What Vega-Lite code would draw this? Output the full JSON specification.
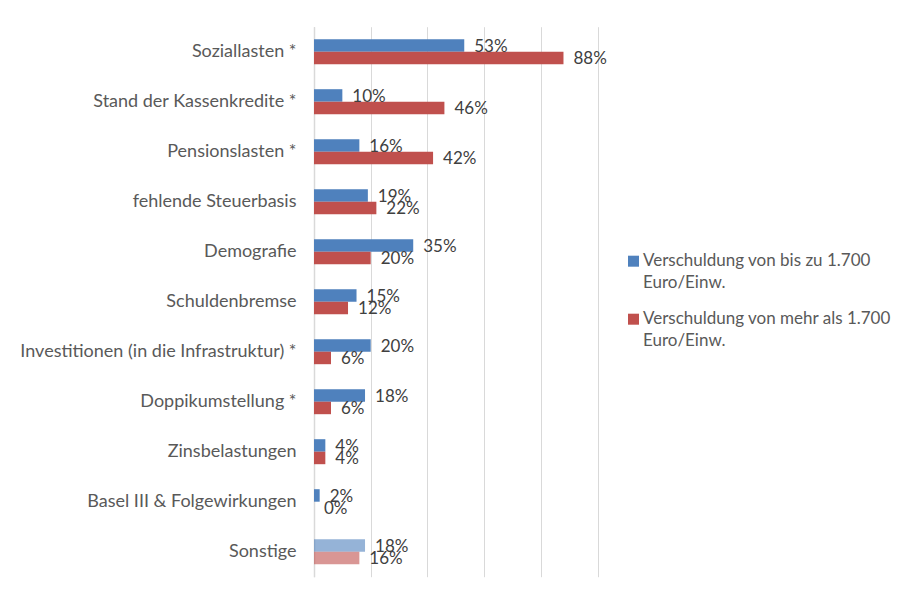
{
  "$schema": "https://vega.github.io/schema/vega-lite/v6.json",
  "autosize": {"type": "none"},
  "width": 283.5,
  "height": 550,
  "padding": {"left": 314, "top": 26.7, "right": 308.5, "bottom": 13.3},
  "background": "white",
  "config": {
    "view": {"stroke": null},
    "font": "Lato",
    "axis": {"labelFont": "Lato", "labelFontSize": 18, "labelColor": "#595959"},
    "legend": {"labelFont": "Lato", "labelFontSize": 17, "labelColor": "#595959"},
    "style": {"guide-label": {"lineHeight": 22}}
  },
  "data": {
    "values": [
      {"kategorie": "Soziallasten *", "serie": "Verschuldung von bis zu 1.700 Euro/Einw.", "wert": 0.53},
      {"kategorie": "Soziallasten *", "serie": "Verschuldung von mehr als 1.700 Euro/Einw.", "wert": 0.88},
      {"kategorie": "Stand der Kassenkredite *", "serie": "Verschuldung von bis zu 1.700 Euro/Einw.", "wert": 0.10},
      {"kategorie": "Stand der Kassenkredite *", "serie": "Verschuldung von mehr als 1.700 Euro/Einw.", "wert": 0.46},
      {"kategorie": "Pensionslasten *", "serie": "Verschuldung von bis zu 1.700 Euro/Einw.", "wert": 0.16},
      {"kategorie": "Pensionslasten *", "serie": "Verschuldung von mehr als 1.700 Euro/Einw.", "wert": 0.42},
      {"kategorie": "fehlende Steuerbasis", "serie": "Verschuldung von bis zu 1.700 Euro/Einw.", "wert": 0.19},
      {"kategorie": "fehlende Steuerbasis", "serie": "Verschuldung von mehr als 1.700 Euro/Einw.", "wert": 0.22},
      {"kategorie": "Demografie", "serie": "Verschuldung von bis zu 1.700 Euro/Einw.", "wert": 0.35},
      {"kategorie": "Demografie", "serie": "Verschuldung von mehr als 1.700 Euro/Einw.", "wert": 0.20},
      {"kategorie": "Schuldenbremse", "serie": "Verschuldung von bis zu 1.700 Euro/Einw.", "wert": 0.15},
      {"kategorie": "Schuldenbremse", "serie": "Verschuldung von mehr als 1.700 Euro/Einw.", "wert": 0.12},
      {"kategorie": "Investitionen (in die Infrastruktur) *", "serie": "Verschuldung von bis zu 1.700 Euro/Einw.", "wert": 0.20},
      {"kategorie": "Investitionen (in die Infrastruktur) *", "serie": "Verschuldung von mehr als 1.700 Euro/Einw.", "wert": 0.06},
      {"kategorie": "Doppikumstellung *", "serie": "Verschuldung von bis zu 1.700 Euro/Einw.", "wert": 0.18},
      {"kategorie": "Doppikumstellung *", "serie": "Verschuldung von mehr als 1.700 Euro/Einw.", "wert": 0.06},
      {"kategorie": "Zinsbelastungen", "serie": "Verschuldung von bis zu 1.700 Euro/Einw.", "wert": 0.04},
      {"kategorie": "Zinsbelastungen", "serie": "Verschuldung von mehr als 1.700 Euro/Einw.", "wert": 0.04},
      {"kategorie": "Basel III & Folgewirkungen", "serie": "Verschuldung von bis zu 1.700 Euro/Einw.", "wert": 0.02},
      {"kategorie": "Basel III & Folgewirkungen", "serie": "Verschuldung von mehr als 1.700 Euro/Einw.", "wert": 0.00},
      {"kategorie": "Sonstige", "serie": "Verschuldung von bis zu 1.700 Euro/Einw.", "wert": 0.18},
      {"kategorie": "Sonstige", "serie": "Verschuldung von mehr als 1.700 Euro/Einw.", "wert": 0.16}
    ]
  },
  "encoding": {
    "y": {
      "field": "kategorie",
      "type": "nominal",
      "sort": null,
      "title": null,
      "scale": {"paddingInner": 0.5, "paddingOuter": 0.25},
      "axis": {"ticks": false, "domain": true, "domainColor": "#d9d9d9", "domainWidth": 1.5, "labelPadding": 18, "labelLimit": 400}
    },
    "yOffset": {
      "field": "serie",
      "type": "nominal",
      "scale": {"paddingInner": 0, "paddingOuter": 0}
    },
    "x": {
      "field": "wert",
      "type": "quantitative",
      "title": null,
      "scale": {"domain": [0, 1], "nice": false},
      "axis": {"values": [0, 0.2, 0.4, 0.6, 0.8, 1], "labels": false, "ticks": false, "domain": false, "grid": true, "gridColor": "#d9d9d9", "gridWidth": 1}
    }
  },
  "layer": [
    {
      "mark": {"type": "bar"},
      "encoding": {
        "color": {
          "field": "serie",
          "type": "nominal",
          "scale": {
            "domain": ["Verschuldung von bis zu 1.700 Euro/Einw.", "Verschuldung von mehr als 1.700 Euro/Einw."],
            "range": ["#4F81BD", "#C0504D"]
          },
          "legend": {
            "title": null,
            "orient": "none",
            "legendX": 311,
            "legendY": 226,
            "symbolType": "square",
            "symbolSize": 121,
            "symbolStrokeWidth": 0,
            "labelOffset": 1,
            "rowPadding": 18,
            "padding": 0,
            "labelLimit": 400,
            "labelExpr": "[replace(datum.label, ' Euro/Einw.', ''), 'Euro/Einw.']",
            "labelBaseline": "middle"
          }
        },
        "opacity": {
          "condition": {"test": "datum.kategorie === 'Sonstige'", "value": 0.6},
          "value": 1
        }
      }
    },
    {
      "mark": {"type": "text", "align": "left", "baseline": "middle", "dx": 10, "dy": 1.5, "fontSize": 17, "color": "#404040", "font": "Lato"},
      "encoding": {
        "text": {"field": "wert", "type": "quantitative", "format": ".0%"}
      }
    }
  ]
}
